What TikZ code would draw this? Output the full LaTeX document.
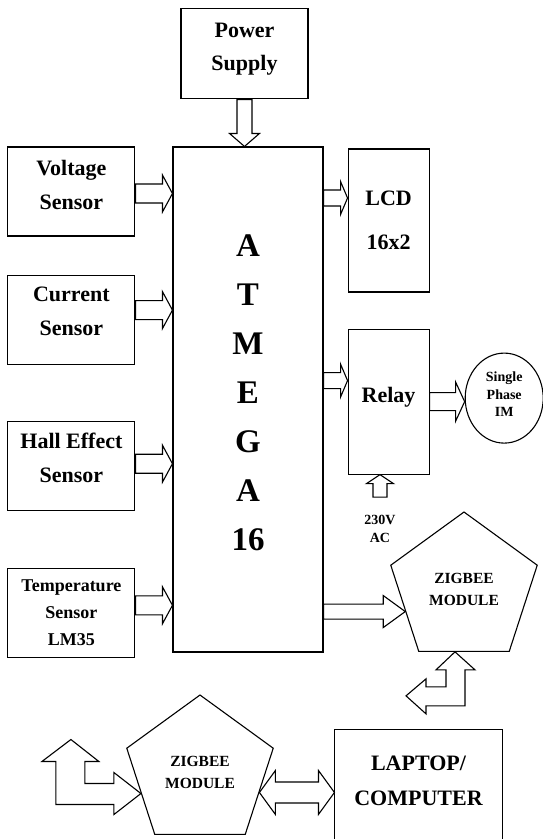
\documentclass[tikz,border=0pt]{standalone}
\usepackage{fontspec}
\setmainfont{Liberation Serif}
\usetikzlibrary{shapes.geometric, positioning, calc}

% hollow block arrows: half shaft, half head, head length
\tikzset{
    fat/.style n args={3}{to path={
        ($(\tikztotarget)!#3!(\tikztostart)$) coordinate (fb)
        ($(\tikztostart)!#1!90:(\tikztotarget)$)
        -- ($(fb)!#1!-90:(\tikztostart)$) -- ($(fb)!#2!-90:(\tikztostart)$)
        -- (\tikztotarget)
        -- ($(fb)!#2!90:(\tikztostart)$) -- ($(fb)!#1!90:(\tikztostart)$)
        -- ($(\tikztostart)!#1!-90:(\tikztotarget)$) -- cycle}},
    fatboth/.style n args={3}{to path={
        ($(\tikztotarget)!#3!(\tikztostart)$) coordinate (fb)
        ($(\tikztostart)!#3!(\tikztotarget)$) coordinate (fa)
        (\tikztostart)
        -- ($(fa)!#2!90:(\tikztotarget)$) -- ($(fa)!#1!90:(\tikztotarget)$)
        -- ($(fb)!#1!-90:(\tikztostart)$) -- ($(fb)!#2!-90:(\tikztostart)$)
        -- (\tikztotarget)
        -- ($(fb)!#2!90:(\tikztostart)$) -- ($(fb)!#1!90:(\tikztostart)$)
        -- ($(fa)!#1!-90:(\tikztotarget)$) -- ($(fa)!#2!-90:(\tikztotarget)$)
        -- cycle}},
}
\newcommand{\lift}[1]{\rule[-#1]{0pt}{#1}}

\begin{document}
\begin{tikzpicture}[
    x=1pt, y=-1pt,
    box/.style={rectangle, draw, line width=1.1pt, align=center, inner sep=0pt, font=\bfseries\fontsize{22}{34}\selectfont},
    sensor/.style={box, minimum width=127pt, minimum height=89pt},
    zig/.style={regular polygon, regular polygon sides=5, draw, line width=1.1pt, minimum size=154pt, inner sep=0pt, align=center, font=\bfseries\fontsize{15.5}{22}\selectfont},
    small/.style={align=center, inner sep=0pt, font=\bfseries\fontsize{14}{18}\selectfont},
    arr/.style={draw, line width=1.1pt, fill=white},
]
    \useasboundingbox (0,0) rectangle (543,839);

    \node[box, minimum width=150pt, minimum height=505pt, font=\bfseries\fontsize{33}{49}\selectfont] (atm) at (248,399.5) {A\\T\\M\\E\\G\\A\\16\lift{14pt}};
    \node[box, minimum width=127pt, minimum height=90pt, font=\bfseries\fontsize{22}{33}\selectfont, above=47pt of atm, xshift=-3.5pt] (psu) {Power\\Supply\lift{15pt}};

    % sensors
    \node[sensor, below left=0pt and 37pt of atm.north west] (volt) {Voltage\\Sensor\lift{14pt}};
    \node[sensor, below=38pt of volt] (cur) {Current\\Sensor\lift{17pt}};
    \node[sensor, below=56pt of cur] (hall) {Hall Effect\\Sensor\lift{16pt}};
    \node[sensor, below=57pt of hall, font=\bfseries\fontsize{18}{27}\selectfont] (temp) {Temperature\\Sensor\\LM35};

    % outputs
    \node[box, minimum width=81pt, minimum height=143pt, font=\bfseries\fontsize{22}{44}\selectfont, below right=2pt and 24pt of atm.north east] (lcd) {LCD\\16x2};
    \node[box, minimum width=81pt, minimum height=145pt, below=36pt of lcd] (relay) {Relay\lift{13pt}};
    \node[ellipse, draw, line width=1.1pt, minimum width=78pt, minimum height=90pt, inner sep=0pt, align=center, font=\bfseries\fontsize{14}{17.5}\selectfont, right=35pt of relay, yshift=3.5pt] (motor) {Single\\Phase\\IM\lift{7pt}};
    \node[small] (acin) at (380,529) {230V\\AC};

    % wireless link
    \node[zig] (zigA) at (464,589) {ZIGBEE\\MODULE};
    \node[zig] (zigB) at (200,772) {ZIGBEE\\MODULE};
    \node[box, draw=none, minimum width=167pt, minimum height=109pt, font=\bfseries\fontsize{22}{35}\selectfont] (laptop) at (418.5,784.5) {LAPTOP/\\COMPUTER\lift{7pt}};
    \draw[line width=1.1pt] (laptop.south west) |- (laptop.north east) -- (laptop.south east);

    \coordinate (vout) at ([yshift=-2pt]volt.east);
    \coordinate (cout) at ([yshift=9.5pt]cur.east);
    \coordinate (hout) at ([yshift=2pt]hall.east);
    \coordinate (tout) at ([yshift=7.5pt]temp.east);
    \coordinate (lcdin) at ([yshift=22.5pt]lcd.west);
    \coordinate (rlyin) at ([yshift=21pt]relay.west);

    \draw[arr] (psu.south) to[fat={7.5pt}{15pt}{13pt}] (psu.south |- atm.north);
    \draw[arr] (vout) to[fat={9.5pt}{18.5pt}{10pt}] (vout -| atm.west);
    \draw[arr] (cout) to[fat={9.5pt}{18.5pt}{10pt}] (cout -| atm.west);
    \draw[arr] (hout) to[fat={9.5pt}{18.5pt}{10pt}] (hout -| atm.west);
    \draw[arr] (tout) to[fat={9.5pt}{18.5pt}{10pt}] (tout -| atm.west);
    \draw[arr] (lcdin -| atm.east) to[fat={8pt}{16.5pt}{7pt}] (lcdin);
    \draw[arr] (rlyin -| atm.east) to[fat={8pt}{16.5pt}{7pt}] (rlyin);
    \draw[arr] (relay.east) to[fat={9pt}{19.5pt}{9pt}] (relay.east -| motor.west);
    \draw[arr] ([yshift=18pt]acin.north) to[fat={7pt}{13.5pt}{9pt}] (acin.north |- relay.south);
    \draw[arr] (atm.east |- zigA.201) to[fat={7.5pt}{16pt}{22pt}] (zigA.201);
    \draw[arr] (zigB.341) to[fatboth={10.5pt}{22pt}{16pt}] (zigB.341 -| laptop.west);

    % bent two-way arrows
    \draw[arr] ([xshift=-9pt]zigA.south) -- ++(20,18) -- ++(-10,0) -- ++(0,36) -- ++(-39,0) -- ++(0,8) -- ++(-20,-18) -- ++(20,-17) -- ++(0,8) -- ++(20,0) -- ++(0,-17) -- ++(-10,0) -- cycle;
    \draw[arr] (zigB.200) -- ++(-27,21) -- ++(0,-10) -- ++(-58,0) -- ++(0,-43) -- ++(-14,0) -- ++(29,-22) -- ++(28,22) -- ++(-14,0) -- ++(0,22) -- ++(29,0) -- ++(0,-11) -- cycle;
\end{tikzpicture}
\end{document}
